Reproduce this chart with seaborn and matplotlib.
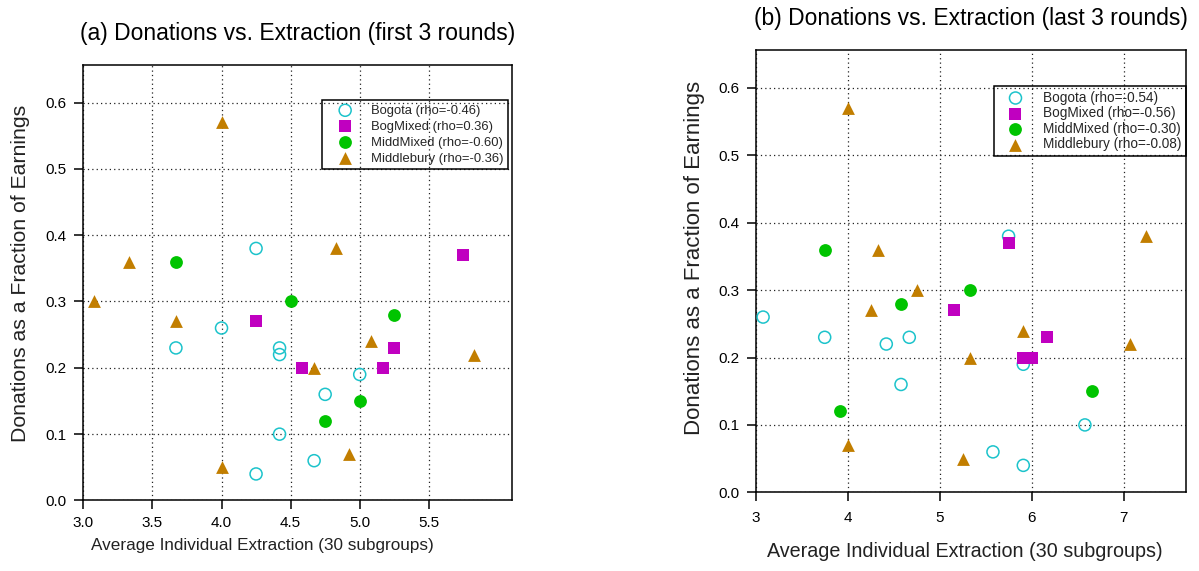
import matplotlib
matplotlib.use("Agg")
import matplotlib.pyplot as plt
import seaborn as sns
import pandas as pd

# ---------------- data ----------------
groups = ["Bogota", "BogMixed", "MiddMixed", "Middlebury"]

# (a) first 3 rounds
a_bog_x = [4.25, 4.00, 3.67, 4.42, 4.42, 4.75, 5.00, 4.42, 4.25, 4.67]
a_bog_y = [0.38, 0.26, 0.23, 0.23, 0.22, 0.16, 0.19, 0.10, 0.04, 0.06]
a_bmx_x = [5.75, 4.25, 4.58, 5.25, 5.17]
a_bmx_y = [0.37, 0.27, 0.20, 0.23, 0.20]
a_mmx_x = [3.67, 4.50, 5.25, 5.00, 4.75]
a_mmx_y = [0.36, 0.30, 0.28, 0.15, 0.12]
a_mid_x = [4.00, 3.33, 3.08, 3.67, 4.83, 5.08, 5.83, 4.67, 4.92, 4.00]
a_mid_y = [0.57, 0.36, 0.30, 0.27, 0.38, 0.24, 0.22, 0.20, 0.07, 0.05]
a_rho = ["-0.46", "0.36", "-0.60", "-0.36"]

# (b) last 3 rounds
b_bog_x = [3.08, 3.75, 4.42, 4.67, 4.58, 5.75, 5.91, 5.58, 5.91, 6.58]
b_bog_y = [0.26, 0.23, 0.22, 0.23, 0.16, 0.38, 0.19, 0.06, 0.04, 0.10]
b_bmx_x = [5.75, 5.16, 6.17, 5.91, 6.00]
b_bmx_y = [0.37, 0.27, 0.23, 0.20, 0.20]
b_mmx_x = [3.75, 4.58, 5.33, 3.92, 6.66]
b_mmx_y = [0.36, 0.28, 0.30, 0.12, 0.15]
b_mid_x = [4.00, 4.33, 4.75, 4.25, 5.91, 5.33, 7.07, 7.24, 4.00, 5.25]
b_mid_y = [0.57, 0.36, 0.30, 0.27, 0.24, 0.20, 0.22, 0.38, 0.07, 0.05]
b_rho = ["-0.54", "-0.56", "-0.30", "-0.08"]

a_xticks = [3.0, 3.5, 4.0, 4.5, 5.0, 5.5]
a_xticklabels = ["3.0", "3.5", "4.0", "4.5", "5.0", "5.5"]
b_xticks = [3, 4, 5, 6, 7]
b_xticklabels = ["3", "4", "5", "6", "7"]
yticks = [0.0, 0.1, 0.2, 0.3, 0.4, 0.5, 0.6]
yticklabels = ["0.0", "0.1", "0.2", "0.3", "0.4", "0.5", "0.6"]

titles = ["(a) Donations vs. Extraction (first 3 rounds)",
          "(b) Donations vs. Extraction (last 3 rounds)"]
xlabel = "Average Individual Extraction (30 subgroups)"
ylabel = "Donations as a Fraction of Earnings"

# ---------------- style ----------------
sns.set_style("white")
plt.rcParams["font.family"] = ["Liberation Sans", "DejaVu Sans"]

cyan = "#1CC3CB"
magenta = "#C000C0"
green = "#00C400"
brown = "#C27E00"

styles = {
    "Bogota": dict(marker="o", s=75, facecolor="none", edgecolor=cyan, linewidth=1.1),
    "BogMixed": dict(marker="s", s=85, color=magenta, edgecolor=magenta, linewidth=0),
    "MiddMixed": dict(marker="o", s=85, color=green, edgecolor=green, linewidth=0),
    "Middlebury": dict(marker="^", s=85, color=brown, edgecolor=brown, linewidth=0),
}

fig = plt.figure(figsize=(11.99, 5.71), dpi=100)
axa = fig.add_axes([0.0695, 0.1235, 0.4268 - 0.0695, 0.8867 - 0.1235])
axb = fig.add_axes([0.6303, 0.1378, 0.9892 - 0.6303, 0.9133 - 0.1378])


def build(xs, ys, rhos):
    rows = []
    for g, x, y, r in zip(groups, xs, ys, rhos):
        for xi, yi in zip(x, y):
            rows.append({"x": xi, "y": yi, "group": g, "label": f"{g} (rho={r})"})
    return pd.DataFrame(rows)


def draw(ax, df, xlim, xticks, xtl, title, anchor, xlsize, ylsize,
         xlab_xy, ylab_xy, legsize, hlen, htp, lspace, xpad):
    for g in groups:
        sub = df[df["group"] == g]
        sns.scatterplot(data=sub, x="x", y="y", ax=ax, label=sub["label"].iloc[0],
                        zorder=3, **styles[g])
    ax.set_xlim(*xlim)
    ax.set_ylim(0, 0.657)
    ax.set_xticks(xticks)
    ax.set_xticklabels(xtl)
    ax.set_yticks(yticks)
    ax.set_yticklabels(yticklabels)
    ax.grid(True, color="#222222", linestyle=(0, (1, 2.5)), linewidth=0.9)
    ax.set_axisbelow(True)
    for sp in ax.spines.values():
        sp.set_visible(True)
        sp.set_color("black")
        sp.set_linewidth(1.1)
    ax.tick_params(axis="both", direction="out", length=6.5, width=1.1,
                   color="black", labelsize=11, labelcolor="black",
                   bottom=True, left=True)
    ax.tick_params(axis="x", pad=xpad)
    ax.tick_params(axis="y", pad=5.5)
    ax.set_title(title, fontsize=16.5, pad=18, color="black")
    ax.set_xlabel(xlabel, fontsize=xlsize, color="#222222")
    ax.set_ylabel(ylabel, fontsize=ylsize, color="#222222")
    ax.xaxis.set_label_coords(*xlab_xy)
    ax.yaxis.set_label_coords(*ylab_xy)
    leg = ax.legend(loc="upper right", bbox_to_anchor=anchor, borderaxespad=0,
                    fontsize=legsize, frameon=True, fancybox=False, framealpha=1,
                    handlelength=hlen, handletextpad=htp, borderpad=0.35,
                    labelspacing=lspace, markerscale=1.0)
    fr = leg.get_frame()
    fr.set_facecolor("none")
    fr.set_edgecolor("black")
    fr.set_linewidth(1.1)


dfa = build([a_bog_x, a_bmx_x, a_mmx_x, a_mid_x],
            [a_bog_y, a_bmx_y, a_mmx_y, a_mid_y], a_rho)
dfb = build([b_bog_x, b_bmx_x, b_mmx_x, b_mid_x],
            [b_bog_y, b_bmx_y, b_mmx_y, b_mid_y], b_rho)

draw(axa, dfa, (3.0, 6.10), a_xticks, a_xticklabels, titles[0], (0.991, 0.919),
     12.3, 15.3, (0.417, -0.086), (-0.125, 0.52), 9.4, 2.83, 0.55, 0.3, 4.5)
draw(axb, dfb, (3.0, 7.68), b_xticks, b_xticklabels, titles[1], (1.0, 0.918),
     14.2, 16.0, (0.485, -0.113), (-0.117, 0.529), 9.8, 2.53, 0.74, 0.12, 7)

fig.savefig("out.png", dpi=100)
